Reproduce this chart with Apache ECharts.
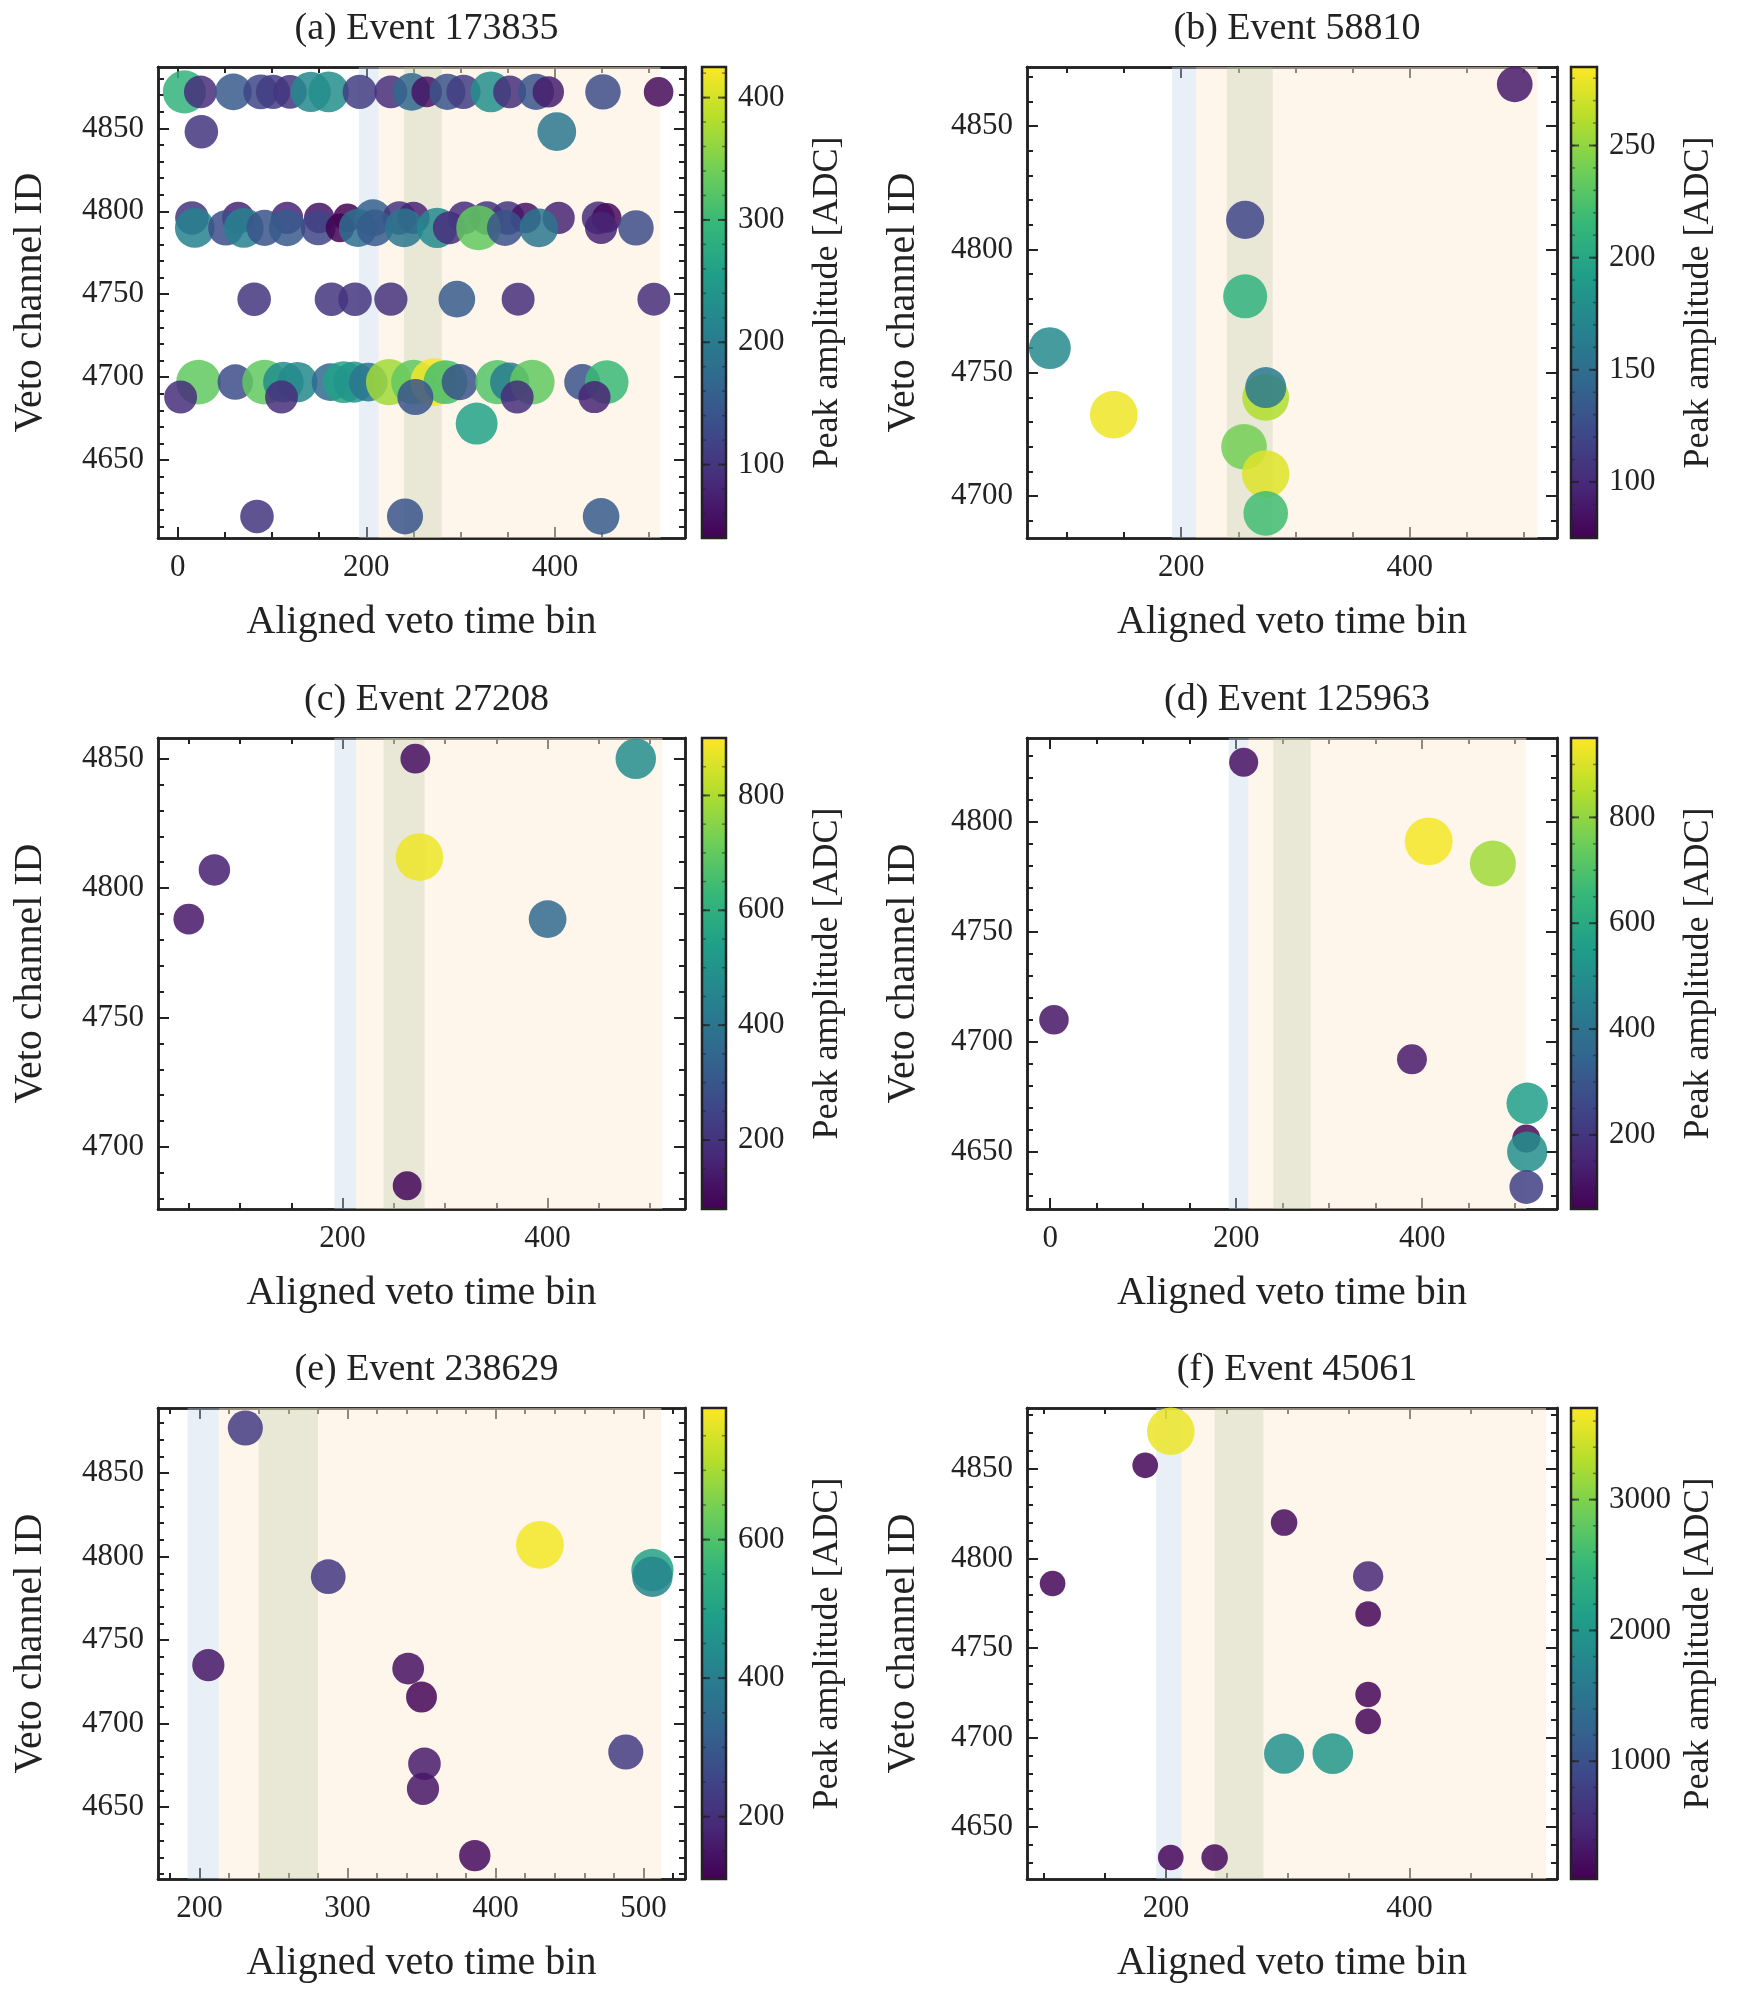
<!DOCTYPE html>
<html><head><meta charset="utf-8">
<script src="https://cdn.jsdelivr.net/npm/echarts@6/dist/echarts.min.js"></script>
<style>html,body{margin:0;padding:0;background:#fff}#c{width:1738px;height:2000px}</style>
</head><body><div id="c"></div>
<script>
// [time bin, channel ID, peak amplitude]
const evA = [
[7,4872,290],[24,4872,90],[59,4872,150],[88,4872,120],[101,4872,110],[119,4872,100],[141,4872,220],[160,4872,230],[193,4872,110],[226,4872,90],[248,4872,170],[264,4872,60],[286,4872,140],[303,4872,110],[332,4872,230],[352,4872,90],[380,4872,140],[393,4872,70],[451,4872,130],[510,4872,50],
[25,4848,100],[402,4848,190],
[15,4796,100],[64,4796,80],[116,4796,80],[150,4796,60],[180,4796,40],[207,4796,160],[235,4796,100],[250,4796,80],[304,4796,90],[328,4796,100],[350,4796,100],[369,4796,60],[404,4796,80],[446,4796,90],[455,4796,50],
[18,4790,210],[51,4790,130],[70,4790,210],[92,4790,140],[116,4790,150],[149,4790,120],[172,4790,40],[191,4790,180],[209,4790,150],[240,4790,190],[275,4790,220],[288,4790,90],[319,4790,330],[347,4790,140],[383,4790,190],[449,4790,80],[486,4790,130],
[81,4747,100],[163,4747,100],[188,4747,100],[226,4747,95],[296,4747,150],[361,4747,90],[505,4747,90],
[22,4697,330],[61,4697,130],[92,4697,330],[112,4697,230],[127,4697,220],[162,4697,170],[176,4697,260],[187,4697,240],[202,4697,190],[224,4697,370],[250,4697,330],[272,4697,420],[284,4697,310],[299,4697,140],[339,4697,320],[352,4697,200],[376,4697,330],[429,4697,140],[455,4697,300],
[3,4688,90],[110,4688,90],[252,4688,140],[360,4688,90],[442,4688,80],
[317,4672,260],
[84,4616,100],[241,4616,140],[449,4616,150]
];
const evB = [[492,4867,90],[256,4812,120],[256,4781,210],[85,4760,175],[141,4733,280],[274,4740,260],[274,4744,160],[255,4720,240],[274,4709,275],[274,4693,220]];
const evC = [[271,4850,110],[486,4850,480],[75,4807,150],[50,4788,130],[275,4812,880],[400,4788,360],[263,4685,90]];
const evD = [[208,4827,100],[407,4791,940],[476,4781,820],[4,4710,110],[389,4692,120],[513,4672,560],[512,4656,80],[513,4650,500],[512,4634,230]];
const evE = [[231,4877,230],[287,4788,220],[430,4807,780],[506,4792,500],[506,4788,420],[206,4735,150],[341,4733,140],[350,4716,120],[352,4676,160],[351,4661,150],[386,4621,130],[488,4683,230]];
const evF = [[204,4871,3600],[183,4852,150],[107,4786,150],[297,4820,200],[366,4790,500],[366,4769,150],[366,4724,150],[366,4709,150],[297,4691,1900],[337,4691,2000],[204,4633,150],[240,4633,200]];

const titles = ['(a) Event 173835','(b) Event 58810','(c) Event 27208','(d) Event 125963','(e) Event 238629','(f) Event 45061'];
const xTicksA=[0,200,400], xTicksB=[200,400], xTicksC=[200,400], xTicksD=[0,200,400], xTicksE=[200,300,400,500], xTicksF=[200,400];
const yTicksA=[4650,4700,4750,4800,4850], yTicksB=[4700,4750,4800,4850], yTicksC=[4700,4750,4800,4850], yTicksD=[4650,4700,4750,4800], yTicksE=[4650,4700,4750,4800,4850], yTicksF=[4650,4700,4750,4800,4850];
const cTicksA=[100,200,300,400], cTicksB=[100,150,200,250], cTicksC=[200,400,600,800], cTicksD=[200,400,600,800], cTicksE=[200,400,600], cTicksF=[1000,2000,3000];
const xLabel='Aligned veto time bin', yLabel='Veto channel ID', cLabel='Peak amplitude [ADC]';

const panels = [
 {d:evA,xr:[-21,538],yr:[4603,4887],xt:xTicksA,xs:50,yt:yTicksA,ys:10,cr:[40,425],ct:cTicksA,cs:20},
 {d:evB,xr:[65,529],yr:[4683,4874],xt:xTicksB,xs:50,yt:yTicksB,ys:10,cr:[75,285],ct:cTicksB,cs:10},
 {d:evC,xr:[20,534],yr:[4676,4858],xt:xTicksC,xs:50,yt:yTicksC,ys:10,cr:[80,900],ct:cTicksC,cs:50},
 {d:evD,xr:[-25,545],yr:[4624,4838],xt:xTicksD,xs:50,yt:yTicksD,ys:10,cr:[60,950],ct:cTicksD,cs:50},
 {d:evE,xr:[172,528],yr:[4607,4889],xt:xTicksE,xs:20,yt:yTicksE,ys:10,cr:[110,790],ct:cTicksE,cs:50},
 {d:evF,xr:[86,521],yr:[4621,4884],xt:xTicksF,xs:50,yt:yTicksF,ys:10,cr:[100,3700],ct:cTicksF,cs:200}
];
const viridis=['#440154','#482878','#3e4989','#31688e','#26828e','#1f9e89','#35b779','#6ece58','#b5de2b','#fde725'];
const FONT='"Liberation Serif", "DejaVu Serif", serif';
const INK='#222';
function minors(r,s){const a=[];for(let v=Math.ceil(r[0]/s)*s;v<=r[1];v+=s)a.push(v);return a;}

const opt={animation:false,backgroundColor:'#fff',title:[],grid:[],xAxis:[],yAxis:[],series:[],visualMap:[]};
const rowsTop=[67,738,1408], H=471;
panels.forEach((p,i)=>{
  const col=i%2,row=Math.floor(i/2);
  const left=col?1027:158, W=col?530:527, top=rowsTop[row];
  const cbx=col?1571:702, cbw=col?26:24;
  opt.title.push({text:titles[i],left:left+W/2,top:top-62,textAlign:'center',textStyle:{fontFamily:FONT,fontSize:38,fontWeight:'normal',color:INK}});
  const g=opt.grid.length;
  opt.grid.push({left:left,top:top,width:W,height:H});
  opt.grid.push({left:cbx,top:top,width:cbw,height:H});
  const xb=opt.xAxis.length, yb=opt.yAxis.length;
  const line={show:true,onZero:false,lineStyle:{color:INK,width:2.5}};
  const mk=(pos,vals,len,lab,r,gi,extra)=>Object.assign({type:'value',gridIndex:gi,position:pos,min:r[0],max:r[1],axisLine:line,splitLine:{show:false},
     axisTick:{show:true,inside:true,length:len,customValues:vals,lineStyle:{color:INK,width:2}},
     axisLabel:lab?{show:true,customValues:vals,formatter:v=>String(v),fontFamily:FONT,fontSize:31,color:INK,margin:14}:{show:false}},extra||{});
  const xm=minors(p.xr,p.xs), ym=minors(p.yr,p.ys);
  opt.xAxis.push(mk('bottom',p.xt,11,true,p.xr,g,{name:xLabel,nameLocation:'middle',nameGap:64,nameTextStyle:{fontFamily:FONT,fontSize:40,color:INK}}));
  opt.xAxis.push(mk('top',p.xt,11,false,p.xr,g));
  opt.xAxis.push(mk('bottom',xm,6,false,p.xr,g));
  opt.xAxis.push(mk('top',xm,6,false,p.xr,g));
  opt.yAxis.push(mk('left',p.yt,11,true,p.yr,g,{name:yLabel,nameLocation:'middle',nameGap:col?104:108,nameTextStyle:{fontFamily:FONT,fontSize:40,color:INK}}));
  opt.yAxis.push(mk('right',p.yt,11,false,p.yr,g));
  opt.yAxis.push(mk('left',ym,6,false,p.yr,g));
  opt.yAxis.push(mk('right',ym,6,false,p.yr,g));
  opt.xAxis.push({type:'value',gridIndex:g+1,min:0,max:1,show:false});
  const cm=minors(p.cr,p.cs);
  opt.yAxis.push({type:'value',gridIndex:g+1,position:'right',min:p.cr[0],max:p.cr[1],splitLine:{show:false},
    axisLine:{show:false},axisTick:{show:false},
    axisLabel:{show:true,customValues:p.ct,formatter:v=>String(v),fontFamily:FONT,fontSize:31,color:INK,margin:12},
    name:cLabel,nameLocation:'middle',nameRotate:90,nameGap:84,nameTextStyle:{fontFamily:FONT,fontSize:36,color:INK}});
  const si=opt.series.length;
  opt.series.push({type:'scatter',xAxisIndex:xb,yAxisIndex:yb,data:p.d,
    symbolSize:v=>20+28*Math.sqrt(Math.max(v[2],0)/p.cr[1]),
    itemStyle:{opacity:0.85},z:3,
    markArea:{silent:true,z:1,data:[
      [{xAxis:213,itemStyle:{color:'rgba(253,236,215,0.5)',borderWidth:0}},{xAxis:512}],
      [{xAxis:240,itemStyle:{color:'rgba(170,195,150,0.25)',borderWidth:0}},{xAxis:280}],
      [{xAxis:192,itemStyle:{color:'rgba(200,214,236,0.4)',borderWidth:0}},{xAxis:213}]
    ]}});
  opt.visualMap.push({show:false,type:'continuous',seriesIndex:si,dimension:2,min:p.cr[0],max:p.cr[1],inRange:{color:viridis}});
  const ctk=p.ct, cmn=cm;
  opt.series.push({type:'custom',xAxisIndex:xb+4,yAxisIndex:yb+4,data:[[0,p.cr[0]]],z:1,
    renderItem:(params,api)=>{const cs=params.coordSys;const ch=[];
      ch.push({type:'rect',shape:{x:cs.x,y:cs.y,width:cs.width,height:cs.height},
        style:{fill:new echarts.graphic.LinearGradient(0,1,0,0,viridis.map((c,k)=>({offset:k/(viridis.length-1),color:c}))),stroke:null}});
      const x0=cs.x,x1=cs.x+cs.width;
      ctk.forEach(v=>{const y=api.coord([0,v])[1];
        ch.push({type:'line',shape:{x1:x0,y1:y,x2:x0+8,y2:y},style:{stroke:'rgba(30,30,30,0.7)',lineWidth:2}});
        ch.push({type:'line',shape:{x1:x1-8,y1:y,x2:x1,y2:y},style:{stroke:'rgba(30,30,30,0.7)',lineWidth:2}});});
      cmn.forEach(v=>{const y=api.coord([0,v])[1];
        ch.push({type:'line',shape:{x1:x0,y1:y,x2:x0+4,y2:y},style:{stroke:'rgba(30,30,30,0.5)',lineWidth:1.5}});
        ch.push({type:'line',shape:{x1:x1-4,y1:y,x2:x1,y2:y},style:{stroke:'rgba(30,30,30,0.5)',lineWidth:1.5}});});
      ch.push({type:'rect',shape:{x:cs.x,y:cs.y,width:cs.width,height:cs.height},style:{fill:null,stroke:INK,lineWidth:2.5}});
      return {type:'group',children:ch};}});
});
const ch=echarts.init(document.getElementById('c'),null,{renderer:'canvas'});
ch.setOption(opt);
</script></body></html>
